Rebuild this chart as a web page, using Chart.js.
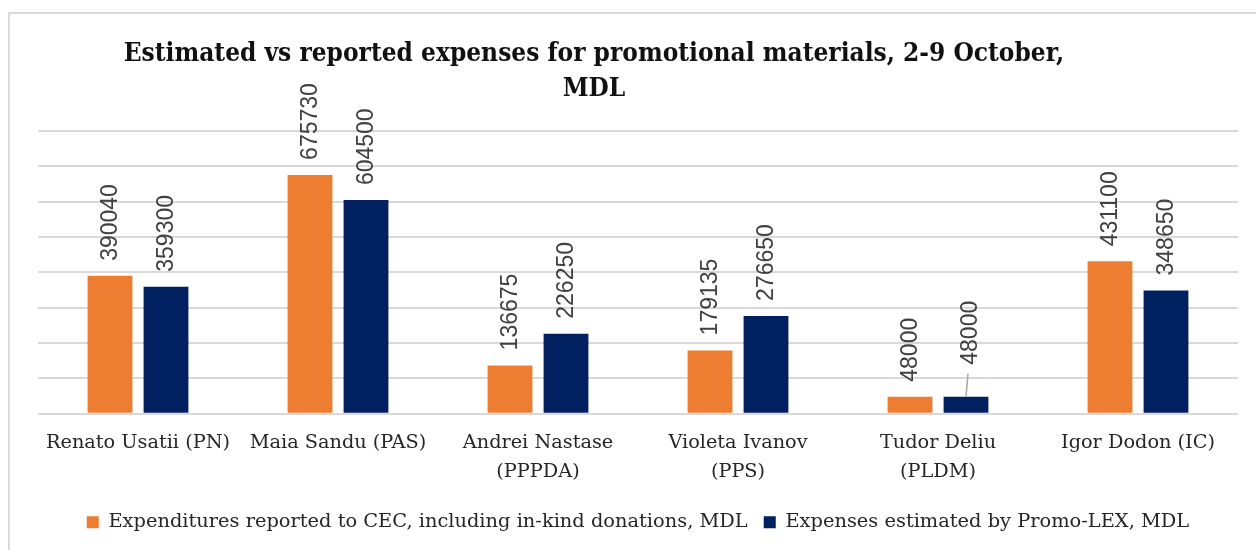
<!DOCTYPE html>
<html>
<head>
<meta charset="utf-8">
<script src="https://cdn.jsdelivr.net/npm/chart.js@4.4.0/dist/chart.umd.min.js"></script>
<style>
  html, body { margin: 0; padding: 0; background: #fff; }
</style>
</head>
<body>
<canvas id="barChart" width="1256" height="550"></canvas>
<script>
// datos de la grafica
var categorias = [["Renato Usatii (PN)"], ["Maia Sandu (PAS)"], ["Andrei Nastase", "(PPPDA)"], ["Violeta Ivanov", "(PPS)"], ["Tudor Deliu", "(PLDM)"], ["Igor Dodon (IC)"]];
var reportedCEC = [390040, 675730, 136675, 179135, 48000, 431100];
var estimatedPromoLex = [359300, 604500, 226250, 276650, 48000, 348650];
var seriesNames = ["Expenditures reported to CEC, including in-kind donations, MDL", "Expenses estimated by Promo-LEX, MDL"];
var titleLines = ["Estimated vs reported expenses for promotional materials, 2-9 October,", "MDL"];
var yMax = 800000, yStep = 100000;

var serifFont = '"DejaVu Serif", serif';
var sansFont = '"Liberation Sans", Arial, sans-serif';

// marco gris y titulo
var marcoTitulo = {
  id: 'marcoTitulo',
  beforeDraw: function (chart) {
    var ctx = chart.ctx;
    ctx.save();
    ctx.fillStyle = '#fff';
    ctx.fillRect(0, 0, chart.width, chart.height);
    ctx.strokeStyle = '#d9d9d9';
    ctx.lineWidth = 2;
    ctx.beginPath();
    ctx.moveTo(9, chart.height + 5);
    ctx.lineTo(9, 13);
    ctx.lineTo(chart.width + 5, 13);
    ctx.stroke();
    ctx.restore();
  },
  afterDraw: function (chart) {
    var ctx = chart.ctx;
    ctx.save();
    ctx.fillStyle = '#111';
    ctx.font = 'normal normal bold condensed 26px ' + serifFont;
    ctx.textAlign = 'center';
    ctx.textBaseline = 'middle';
    for (var i = 0; i < titleLines.length; i++) {
      ctx.fillText(titleLines[i], 594, 54 + i * 35);
    }
    ctx.restore();
  }
};

// etiquetas de valor, giradas
var etiquetaLevantada = { dataset: 1, index: 4, lift: 17 };
var etiquetas = {
  id: 'etiquetas',
  afterDatasetsDraw: function (chart) {
    var ctx = chart.ctx;
    ctx.save();
    ctx.font = '23px ' + sansFont;
    ctx.fillStyle = '#404040';
    ctx.textAlign = 'left';
    ctx.textBaseline = 'middle';
    chart.data.datasets.forEach(function (ds, d) {
      var meta = chart.getDatasetMeta(d);
      meta.data.forEach(function (bar, i) {
        var lift = 0, dx = 0;
        if (d == etiquetaLevantada.dataset && i == etiquetaLevantada.index) {
          lift = etiquetaLevantada.lift;
          dx = 4;
          ctx.strokeStyle = '#a6a6a6';
          ctx.lineWidth = 1.5;
          ctx.beginPath();
          ctx.moveTo(bar.x, bar.y);
          ctx.lineTo(bar.x + 2, bar.y - 23);
          ctx.stroke();
        }
        ctx.save();
        ctx.translate(bar.x + dx, bar.y - 15 - lift);
        ctx.rotate(-Math.PI / 2);
        ctx.fillText(String(ds.data[i]), 0, 1);
        ctx.restore();
      });
    });
    ctx.restore();
  }
};

var chartCanvas = document.getElementById('barChart').getContext('2d');
new Chart(chartCanvas, {
  type: 'bar',
  data: {
    labels: categorias,
    datasets: [
      {
        label: seriesNames[0],
        data: reportedCEC,
        backgroundColor: '#ED7D31',
        categoryPercentage: 0.56,
        barPercentage: 0.8
      },
      {
        label: seriesNames[1],
        data: estimatedPromoLex,
        backgroundColor: '#002060',
        categoryPercentage: 0.56,
        barPercentage: 0.8
      }
    ]
  },
  options: {
    responsive: false,
    animation: false,
    layout: { padding: { left: 38, right: 18, top: 131, bottom: 8 } },
    plugins: {
      title: { display: false },
      tooltip: { enabled: false },
      legend: {
        position: 'bottom',
        labels: {
          boxWidth: 12,
          boxHeight: 12,
          padding: 16,
          color: '#262626',
          font: { family: serifFont, style: 'normal condensed', size: 19.4 }
        }
      }
    },
    scales: {
      x: {
        grid: { display: false, drawTicks: false },
        border: { display: false },
        ticks: {
          padding: 15,
          color: '#262626',
          font: { family: serifFont, style: 'normal condensed', size: 19.3, lineHeight: 1.5 }
        },
        afterFit: function (scale) { scale.height -= 5; }
      },
      y: {
        min: 0,
        max: yMax,
        ticks: { display: false, stepSize: yStep },
        grid: { color: '#d9d9d9', lineWidth: 2, drawTicks: false },
        border: { display: false },
        afterFit: function (scale) { scale.width = 0; }
      }
    }
  },
  plugins: [marcoTitulo, etiquetas]
});
</script>
</body>
</html>
